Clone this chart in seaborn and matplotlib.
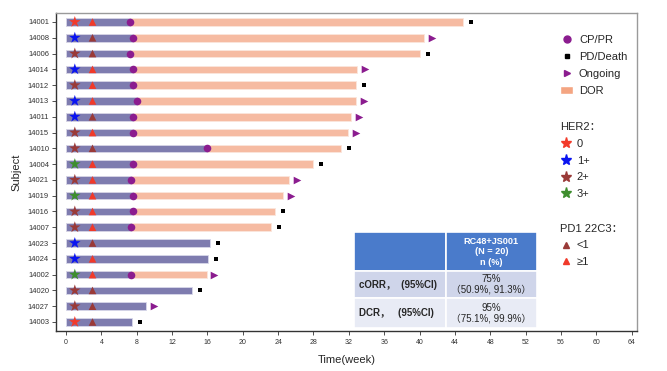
import numpy as np
import pandas as pd
import matplotlib
matplotlib.use('Agg')
import matplotlib.pyplot as plt
import seaborn as sns
from matplotlib.lines import Line2D
from matplotlib.patches import Patch

sns.set_style('white')
plt.rcParams['font.family'] = ['Liberation Sans', 'Noto Sans CJK SC', 'DejaVu Sans']

# 数据
subjects = ['14001', '14008', '14006', '14014', '14012', '14013', '14011',
            '14015', '14010', '14004', '14021', '14019', '14016', '14007',
            '14023', '14024', '14002', '14020', '14027', '14003']
response = [7.2, 7.6, 7.2, 7.6, 7.6, 8.0, 7.6, 7.6, 16.0, 7.6, 7.4,
            7.6, 7.6, 7.4, np.nan, np.nan, 7.4, np.nan, np.nan, np.nan]
end_time = [44.9, 40.5, 40.0, 32.9, 32.8, 32.8, 32.3, 31.9, 31.1, 27.9,
            25.2, 24.5, 23.7, 23.2, 16.3, 16.1, 15.9, 14.3, 9.1, 7.5]
status = ['PD', 'Ongoing', 'PD', 'Ongoing', 'PD', 'Ongoing', 'Ongoing',
          'Ongoing', 'PD', 'PD', 'Ongoing', 'Ongoing', 'PD', 'PD',
          'PD', 'PD', 'Ongoing', 'PD', 'Ongoing', 'PD']
her2 = ['0', '1+', '2+', '1+', '2+', '1+', '1+', '2+', '2+', '3+', '2+',
        '3+', '2+', '2+', '1+', '1+', '3+', '2+', '2+', '0']
pd1 = ['≥1', '<1', '<1', '≥1', '≥1', '≥1', '<1', '≥1', '<1', '≥1', '≥1',
       '≥1', '≥1', '≥1', '<1', '≥1', '≥1', '<1', '<1', '<1']

table_header = 'RC48+JS001\n(N = 20)\nn (%)'
table_rows = ['cORR，  (95%CI)', 'DCR，   (95%CI)']
table_vals = ['75%\n（50.9%, 91.3%）', '95%\n（75.1%, 99.9%）']

df = pd.DataFrame({'subject': subjects, 'response': response,
                   'end': end_time, 'status': status,
                   'her2': her2, 'pd1': pd1})
df['row'] = np.arange(len(df))
df['purple_end'] = df['response'].fillna(df['end'])
df['dor_end'] = df['end'].where(df['response'].notna())
df['event'] = df['end'] + 0.9

BAR_PURPLE = '#7E7CAF'
SALMON = '#F6BBA2'
MAGENTA = '#8B1C8F'
her2_colors = {'0': '#F23A2A', '1+': '#0A14F0', '2+': '#9A3A38', '3+': '#3E8E2E'}
pd1_colors = {'<1': '#9A3A38', '≥1': '#F03A2A'}

fig = plt.figure(figsize=(6.67, 3.71), dpi=100)
ax = fig.add_axes([56 / 667, 40 / 371, 581 / 667, 318 / 371])

# DOR（整条）+ 治疗至缓解（叠加）
sns.barplot(data=df, x='dor_end', y='subject', order=subjects, orient='h',
            color=SALMON, saturation=1, width=0.48, edgecolor='#FBE6DC',
            linewidth=0.6, ax=ax)
sns.barplot(data=df, x='purple_end', y='subject', order=subjects, orient='h',
            color=BAR_PURPLE, saturation=1, width=0.48, edgecolor='#D8D8EA',
            linewidth=0.6, ax=ax)

# 标记
sns.scatterplot(data=df, x='response', y='row', color=MAGENTA, s=30,
                marker='o', linewidth=0, ax=ax, zorder=5, legend=False)
pd_df = df[df['status'] == 'PD']
on_df = df[df['status'] == 'Ongoing']
sns.scatterplot(data=pd_df, x='event', y='row', color='black', s=10,
                marker='s', linewidth=0, ax=ax, zorder=5, legend=False)
sns.scatterplot(data=on_df, x='event', y='row', color=MAGENTA, s=30,
                marker='>', linewidth=0, ax=ax, zorder=5, legend=False)
sns.scatterplot(x=np.full(len(df), 1.0), y=df['row'], hue=df['her2'],
                palette=her2_colors, s=75, marker='*', linewidth=0,
                ax=ax, zorder=6, legend=False)
sns.scatterplot(x=np.full(len(df), 3.0), y=df['row'], hue=df['pd1'],
                palette=pd1_colors, s=30, marker='^', linewidth=0,
                ax=ax, zorder=6, legend=False)

ax.set_xlim(-1.13, 64.6)
ax.set_ylim(len(subjects) - 0.43, -0.57)
ax.set_xticks(range(0, 65, 4))
ax.set_yticks(range(len(subjects)))
ax.set_yticklabels(subjects)
ax.tick_params(axis='both', length=3, width=0.6,
               color='#333333', labelcolor='#333333', pad=2)
ax.tick_params(axis='y', labelsize=5.5, left=True)
ax.tick_params(axis='x', labelsize=5, bottom=True, pad=3)
ax.set_xlabel('Time(week)', fontsize=8, labelpad=6)
ax.set_ylabel('Subject', fontsize=8, labelpad=5)
for side in ['left', 'bottom']:
    ax.spines[side].set_color('#333333')
    ax.spines[side].set_linewidth(1.0)
for side in ['top', 'right']:
    ax.spines[side].set_color('#9A9A9A')
    ax.spines[side].set_linewidth(1.0)

# 图例
h1 = [Line2D([], [], marker='o', color=MAGENTA, ls='', markersize=5),
      Line2D([], [], marker='s', color='black', ls='', markersize=2.5),
      Line2D([], [], marker='>', color=MAGENTA, ls='', markersize=5),
      Patch(facecolor='#F4A582')]
leg1 = ax.legend(h1, ['CP/PR', 'PD/Death', 'Ongoing', 'DOR'],
                 loc='upper left', bbox_to_anchor=(0.86, 0.945),
                 frameon=False, fontsize=8, handlelength=1.2,
                 handletextpad=0.5, labelspacing=0.62, borderaxespad=0)
ax.add_artist(leg1)

h2 = [Line2D([], [], marker='*', color=c, ls='', markersize=8)
      for c in her2_colors.values()]
leg2 = ax.legend(h2, list(her2_colors.keys()), title='HER2：',
                 loc='upper left', bbox_to_anchor=(0.86, 0.672),
                 frameon=False, fontsize=8, title_fontsize=8,
                 handlelength=1.0, handletextpad=0.5, labelspacing=0.62,
                 alignment='left', borderaxespad=0)
ax.add_artist(leg2)

h3 = [Line2D([], [], marker='^', color=c, ls='', markersize=5)
      for c in pd1_colors.values()]
ax.legend(h3, list(pd1_colors.keys()), title='PD1 22C3：',
          loc='upper left', bbox_to_anchor=(0.86, 0.352),
          frameon=False, fontsize=8, title_fontsize=8,
          handlelength=1.0, handletextpad=0.5, labelspacing=0.62,
          alignment='left', borderaxespad=0)

# 结果表格
cell_text = [['', table_header]] + [[r, v] for r, v in zip(table_rows, table_vals)]
cell_colors = [['#4A7BCB', '#4A7BCB'], ['#CFD5EA', '#CFD5EA'], ['#E8EBF5', '#E8EBF5']]
tbl = ax.table(cellText=cell_text, cellColours=cell_colors,
               bbox=[0.513, 0.01, 0.315, 0.30], zorder=7)
tbl.auto_set_font_size(False)
row_h = [39, 27, 30]
for (r, c), cell in tbl.get_celld().items():
    cell.set_edgecolor('white')
    cell.set_linewidth(1.2)
    cell.set_height(row_h[r])
    cell.set_width(1)
    txt = cell.get_text()
    txt.set_fontsize(7)
    if r == 0:
        txt.set_color('white')
        txt.set_fontweight('bold')
        txt.set_ha('center')
        txt.set_fontsize(6.6)
    elif c == 0:
        txt.set_fontweight('bold')
        txt.set_ha('left')
        cell.PAD = 0.05
    else:
        txt.set_ha('center')
        txt.set_linespacing(1.1)

fig.savefig('out.png', dpi=100)
